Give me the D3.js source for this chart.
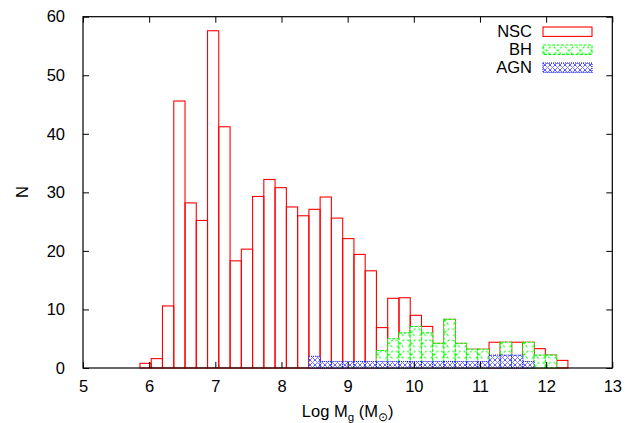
<!DOCTYPE html>
<html>
<head>
<meta charset="utf-8">
<script src="https://cdn.jsdelivr.net/npm/d3@7"></script>
<style>
  html, body { margin: 0; padding: 0; background: #fff; }
  svg { display: block; font-family: "Liberation Sans", Arial, Helvetica, sans-serif; }
</style>
</head>
<body>
<svg id="chart" width="635" height="423"></svg>
<script>
// ---- data ----
const binEdges = [5.861, 6.031, 6.201, 6.372, 6.542, 6.712, 6.882, 7.052, 7.223, 7.393,
  7.563, 7.733, 7.903, 8.074, 8.244, 8.414, 8.584, 8.754, 8.925, 9.095,
  9.265, 9.435, 9.605, 9.776, 9.946, 10.116, 10.286, 10.456, 10.627, 10.797,
  10.967, 11.137, 11.307, 11.478, 11.648, 11.818, 11.988, 12.158, 12.329];
const nscCounts = [0.8, 1.6, 10.6, 45.6, 28.2, 25.2, 57.6, 41.2, 18.3, 20.3,
  29.3, 32.2, 30.8, 27.5, 26.0, 27.1, 29.2, 25.6, 22.1, 19.4,
  16.6, 6.9, 11.9, 12.0, 9.0, 7.1, 4.2, 8.3, 4.2, 3.2,
  3.2, 4.4, 4.4, 4.4, 4.4, 3.3, 2.2, 1.3];
const bhCounts = [0, 0, 0, 0, 0, 0, 0, 0, 0, 0,
  0, 0, 0, 0, 0, 0, 0, 0, 0, 0,
  0, 3.0, 5.0, 6.0, 7.1, 6.0, 4.2, 8.3, 4.2, 3.2,
  3.2, 0, 4.4, 0, 4.4, 2.2, 2.2, 0];
const agnCounts = [0, 0, 0, 0, 0, 0, 0, 0, 0, 0,
  0, 0, 0, 0, 0, 2.0, 1.1, 1.1, 1.1, 1.1,
  1.1, 1.1, 1.1, 1.1, 1.1, 1.1, 1.1, 1.1, 1.1, 1.1,
  1.1, 2.2, 2.2, 2.2, 1.1, 0, 0, 0];
const xTicks = [5, 6, 7, 8, 9, 10, 11, 12, 13];
const yTicks = [0, 10, 20, 30, 40, 50, 60];
const seriesNames = ["NSC", "BH", "AGN"];

// ---- layout ----
const svg = d3.select("#chart");
const L = 83, R = 612.3, T = 16.7, B = 368;
const FS = 16.5;
const x = d3.scaleLinear().domain([5, 13]).range([L, R]);
const y = d3.scaleLinear().domain([0, 60]).range([B, T]);

// patterns
const defs = svg.append("defs");
const pg = defs.append("pattern").attr("id", "patBH")
  .attr("patternUnits", "userSpaceOnUse").attr("width", 11.27).attr("height", 11.27);
pg.append("rect").attr("width", 11.27).attr("height", 11.27).attr("fill", "#fff");
pg.append("path").attr("d", "M1.5,1.5 L9.8,9.8 M9.8,1.5 L1.5,9.8")
  .attr("stroke", "#00ff00").attr("stroke-width", 1).attr("stroke-dasharray", "2.5,1.5").attr("fill", "none");

const pb = defs.append("pattern").attr("id", "patAGN")
  .attr("patternUnits", "userSpaceOnUse").attr("width", 5).attr("height", 5);
pb.append("rect").attr("width", 5).attr("height", 5).attr("fill", "#fff");
pb.append("path").attr("d", "M0,0 L5,5 M5,0 L0,5")
  .attr("stroke", "#0000ff").attr("stroke-width", 0.8).attr("stroke-dasharray", "1.2,0.8").attr("fill", "none");

const bins = nscCounts.map((v, i) => ({ x0: binEdges[i], x1: binEdges[i + 1], nsc: v, bh: bhCounts[i], agn: agnCounts[i] }));

// NSC bars
svg.append("g").selectAll("rect").data(bins.filter(d => d.nsc > 0)).join("rect")
  .attr("x", d => x(d.x0)).attr("width", d => x(d.x1) - x(d.x0))
  .attr("y", d => y(d.nsc)).attr("height", d => y(0) - y(d.nsc))
  .attr("fill", "none").attr("stroke", "#ff0000").attr("stroke-width", 1.1);

// BH bars
svg.append("g").selectAll("rect").data(bins.filter(d => d.bh > 0)).join("rect")
  .attr("x", d => x(d.x0)).attr("width", d => x(d.x1) - x(d.x0))
  .attr("y", d => y(d.bh)).attr("height", d => y(0) - y(d.bh))
  .attr("fill", "url(#patBH)").attr("stroke", "#00ff00").attr("stroke-width", 1.1)
  .attr("stroke-dasharray", "3,1.5");

// AGN bars
svg.append("g").selectAll("rect").data(bins.filter(d => d.agn > 0)).join("rect")
  .attr("x", d => x(d.x0)).attr("width", d => x(d.x1) - x(d.x0))
  .attr("y", d => y(d.agn)).attr("height", d => y(0) - y(d.agn))
  .attr("fill", "url(#patAGN)").attr("stroke", "#0000ff").attr("stroke-width", 1)
  .attr("stroke-dasharray", "1,1");

// axes (ticks inward, mirrored)
const tickLen = 6;
const axB = svg.append("g").attr("transform", `translate(0,${B})`)
  .call(d3.axisBottom(x).tickValues(xTicks).tickSize(-tickLen).tickFormat(d3.format("d")));
const axT = svg.append("g").attr("transform", `translate(0,${T})`)
  .call(d3.axisTop(x).tickValues(xTicks).tickSize(-tickLen).tickFormat(""));
const axL = svg.append("g").attr("transform", `translate(${L},0)`)
  .call(d3.axisLeft(y).tickValues(yTicks).tickSize(-tickLen).tickPadding(12 + tickLen).tickFormat(d3.format("d")));
const axR = svg.append("g").attr("transform", `translate(${R},0)`)
  .call(d3.axisRight(y).tickValues(yTicks).tickSize(-tickLen).tickFormat(""));
[axB, axT, axL, axR].forEach(a => {
  a.select(".domain").remove();
  a.selectAll(".tick line").attr("stroke", "#000").attr("stroke-width", 1);
  a.selectAll("text").attr("font-size", FS).attr("fill", "#000")
    .attr("font-family", "'Liberation Sans', Arial, sans-serif");
});
axB.selectAll("text").attr("dy", "0.71em").attr("y", 12.5);
// frame
svg.append("rect").attr("x", L).attr("y", T).attr("width", R - L).attr("height", B - T)
  .attr("fill", "none").attr("stroke", "#000").attr("stroke-width", 1.2);

// axis labels
const xl = svg.append("text").attr("x", (L + R) / 2).attr("y", 417).attr("text-anchor", "middle")
  .attr("font-size", FS).attr("fill", "#000");
xl.append("tspan").text("Log M");
xl.append("tspan").attr("font-size", 11.5).attr("dy", 4).text("g");
xl.append("tspan").attr("dy", -4).text(" (M");
xl.append("tspan").attr("font-size", 11.5).attr("dy", 4).text("\u2299");
xl.append("tspan").attr("dy", -4).text(")");

svg.append("text").attr("transform", `translate(28,192) rotate(-90)`)
  .attr("text-anchor", "middle").attr("font-size", FS).attr("fill", "#000").text("N");

// legend
const legFill = ["none", "url(#patBH)", "url(#patAGN)"];
const legStroke = ["#ff0000", "#00ff00", "#0000ff"];
const legDash = [null, "3,1.5", "1,1"];
const leg = svg.append("g");
seriesNames.forEach((name, i) => {
  const cy = 31.7 + i * 18;
  leg.append("text").attr("x", 532).attr("y", cy).attr("dy", "0.35em")
    .attr("text-anchor", "end").attr("font-size", FS).attr("fill", "#000").text(name);
  leg.append("rect").attr("x", 543).attr("y", cy - 4.7).attr("width", 49).attr("height", 9.4)
    .attr("fill", legFill[i]).attr("stroke", legStroke[i]).attr("stroke-width", 1.1)
    .attr("stroke-dasharray", legDash[i]);
});
</script>
</body>
</html>
